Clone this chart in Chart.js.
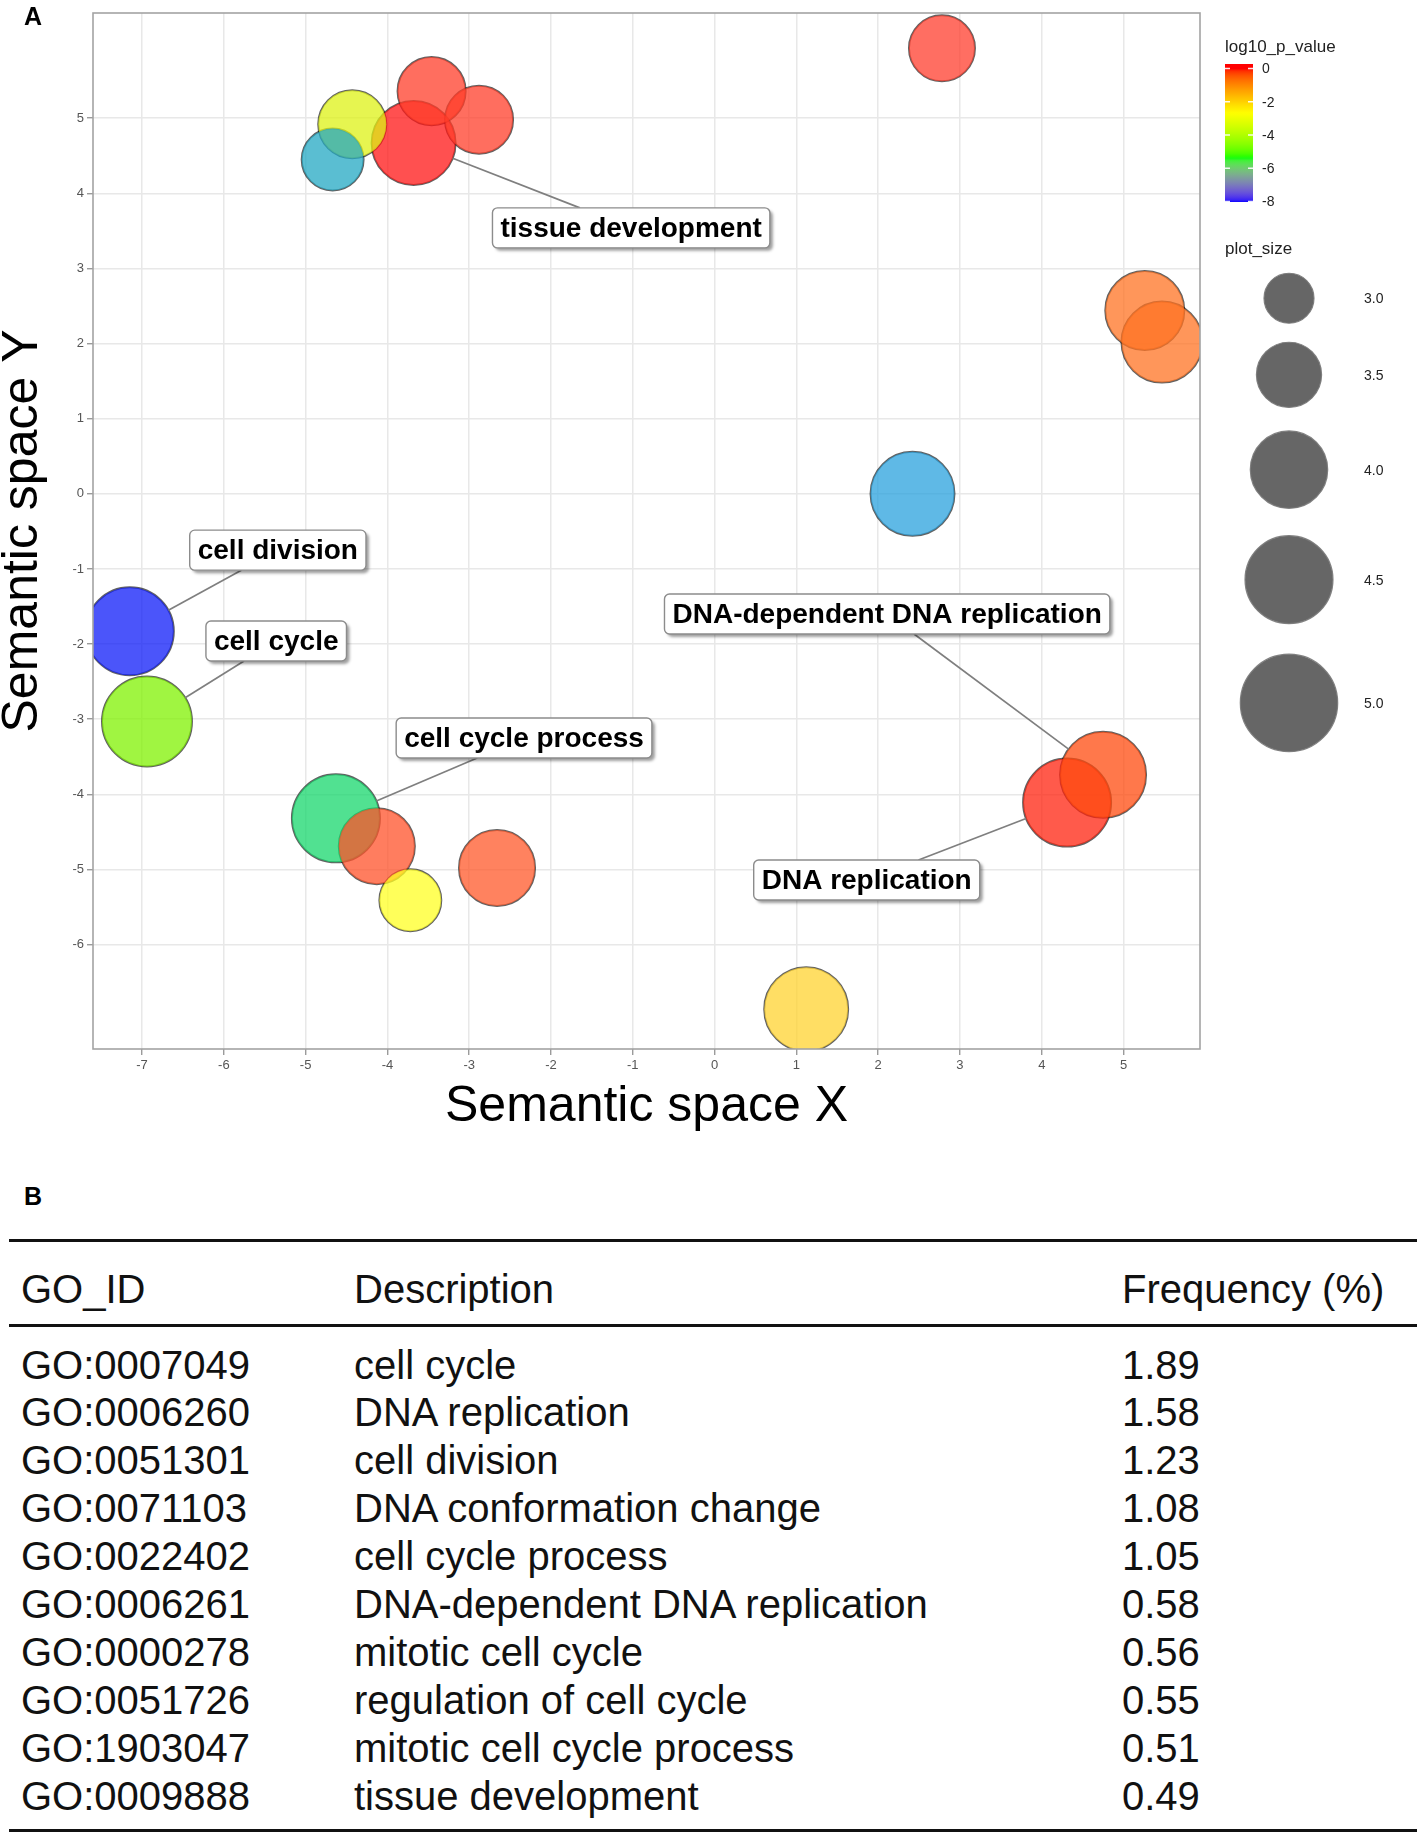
<!DOCTYPE html>
<html>
<head>
<meta charset="utf-8">
<script src="https://cdn.jsdelivr.net/npm/chart.js@4.4.1/dist/chart.umd.min.js"></script>
<style>
  body { margin: 0; background: #fff; font-family: "Liberation Sans", Arial, sans-serif; }
  #page { position: relative; width: 1417px; height: 1836px; overflow: hidden; }
  #chartBox { position: absolute; left: 0; top: 0; width: 1417px; height: 1160px; }
  .panel { position: absolute; font-weight: bold; font-size: 25px; line-height: 25px; color: #000; }
  .rule { position: absolute; left: 9px; width: 1408px; height: 3px; background: #111; }
  .cell { position: absolute; font-size: 40px; line-height: 40px; color: #111; white-space: nowrap; }
</style>
</head>
<body>
<div id="page">
  <div id="chartBox"><canvas id="semChart" width="1417" height="1160"></canvas></div>
  <div class="panel" style="left:24px; top:4px;">A</div>
  <div class="panel" style="left:24px; top:1184px;">B</div>
  <div id="table"></div>
</div>
<script>
// ---- panel A: REVIGO semantic space ----
const SEM_X = [2.78, -3.68, -3.46, -2.88, -4.43, -4.67, 5.26, 5.47, 2.42, -7.15, -6.94, -4.63, -4.13, -3.72, -2.66, 4.31, 4.75, 1.12];
const SEM_Y = [5.93, 4.67, 5.36, 4.98, 4.92, 4.45, 2.44, 2.02, 0.00, -1.83, -3.03, -4.32, -4.69, -5.41, -4.98, -4.11, -3.74, -6.86];
const PLOT_SIZE = [3.53, 4.30, 3.61, 3.61, 3.61, 3.38, 4.07, 4.16, 4.30, 4.50, 4.60, 4.50, 3.94, 3.38, 3.94, 4.50, 4.40, 4.30];

const X_TICKS = [-7, -6, -5, -4, -3, -2, -1, 0, 1, 2, 3, 4, 5];
const Y_TICKS = [-6, -5, -4, -3, -2, -1, 0, 1, 2, 3, 4, 5];
const X_MIN = -7.6, X_MAX = 5.935;
const Y_MIN = -7.39, Y_MAX = 6.40;

const LABEL_TEXT = ["tissue development", "cell division", "cell cycle", "cell cycle process", "DNA-dependent DNA replication", "DNA replication"];
const LABEL_TERM = [1, 9, 10, 11, 16, 15];
const LABEL_X = [-1.02, -5.34, -5.36, -2.33, 2.11, 1.86];
const LABEL_Y = [3.54, -0.75, -1.96, -3.25, -1.60, -5.14];

const LEGEND_P_TICKS = [0, -2, -4, -6, -8];
const SIZE_LEGEND = [3.0, 3.5, 4.0, 4.5, 5.0];

// ---- panel B: table ----
const GO_IDS = ["GO:0007049", "GO:0006260", "GO:0051301", "GO:0071103", "GO:0022402", "GO:0006261", "GO:0000278", "GO:0051726", "GO:1903047", "GO:0009888"];
const GO_DESCRIPTIONS = ["cell cycle", "DNA replication", "cell division", "DNA conformation change", "cell cycle process", "DNA-dependent DNA replication", "mitotic cell cycle", "regulation of cell cycle", "mitotic cell cycle process", "tissue development"];
const GO_FREQUENCY = [1.89, 1.58, 1.23, 1.08, 1.05, 0.58, 0.56, 0.55, 0.51, 0.49];

// colour each term was drawn in (fill is laid on at FILL_ALPHA)
const TERM_COLOURS = ["#ff3e2d", "#ff1616", "#ff3e2a", "#ff3e2a", "#def216", "#23a8c3", "#ff7323", "#ff7323", "#2aa2de",
  "#0f1cf8", "#80f202", "#17d76c", "#ff522a", "#ffff23", "#ff582a", "#ff230f", "#ff4b0f", "#ffd330"];
const FILL_ALPHA = 0.75;
const FONT = '"Liberation Sans", Arial, sans-serif';

// colour bar: blue -> green -> yellow -> red, interpolated in Lab like ggplot
const BAR_STOPS = [[-8.05, [0, 0, 255]], [-5.37, [0, 255, 0]], [-2.68, [255, 255, 0]], [0, [255, 0, 0]]];

function hexToRgba(hex, a) {
  const n = parseInt(hex.slice(1), 16);
  return `rgba(${(n >> 16) & 255}, ${(n >> 8) & 255}, ${n & 255}, ${a})`;
}

function sizeToRadius(v) {
  // area scale fitted to the plot_size legend (3.0 -> 25px, 5.0 -> 48.7px)
  const r3 = 25, r5 = 48.7;
  return Math.sqrt(r3 * r3 + (r5 * r5 - r3 * r3) * (v - 3) / 2);
}

function toLinear(c) { c /= 255; return c <= 0.04045 ? c / 12.92 : Math.pow((c + 0.055) / 1.055, 2.4); }
function fromLinear(c) {
  const v = c <= 0.0031308 ? 12.92 * c : 1.055 * Math.pow(c, 1 / 2.4) - 0.055;
  return Math.round(Math.min(1, Math.max(0, v)) * 255);
}
function rgbToLab(rgb) {
  const [r, g, b] = rgb.map(toLinear);
  const X = (0.4124 * r + 0.3576 * g + 0.1805 * b) / 0.95047;
  const Y = 0.2126 * r + 0.7152 * g + 0.0722 * b;
  const Z = (0.0193 * r + 0.1192 * g + 0.9505 * b) / 1.08883;
  const f = (t) => (t > 0.008856 ? Math.cbrt(t) : 7.787 * t + 16 / 116);
  return [116 * f(Y) - 16, 500 * (f(X) - f(Y)), 200 * (f(Y) - f(Z))];
}
function labToRgb(lab) {
  const fy = (lab[0] + 16) / 116, fx = fy + lab[1] / 500, fz = fy - lab[2] / 200;
  const inv = (t) => (t * t * t > 0.008856 ? t * t * t : (t - 16 / 116) / 7.787);
  const X = inv(fx) * 0.95047, Y = inv(fy), Z = inv(fz) * 1.08883;
  return [
    fromLinear(3.2406 * X - 1.5372 * Y - 0.4986 * Z),
    fromLinear(-0.9689 * X + 1.8758 * Y + 0.0415 * Z),
    fromLinear(0.0557 * X - 0.2040 * Y + 1.0570 * Z)
  ];
}
function pValueColour(v) {
  const s = BAR_STOPS;
  if (v <= s[0][0]) return `rgb(${s[0][1].join(",")})`;
  if (v >= s[s.length - 1][0]) return `rgb(${s[s.length - 1][1].join(",")})`;
  for (let i = 0; i < s.length - 1; i++) {
    if (v <= s[i + 1][0]) {
      const t = (v - s[i][0]) / (s[i + 1][0] - s[i][0]);
      const a = rgbToLab(s[i][1]), b = rgbToLab(s[i + 1][1]);
      return `rgb(${labToRgb(a.map((c, k) => c + (b[k] - c) * t)).join(",")})`;
    }
  }
}

function roundRect(ctx, l, t, w, h, r) {
  ctx.beginPath();
  ctx.moveTo(l + r, t);
  ctx.arcTo(l + w, t, l + w, t + h, r);
  ctx.arcTo(l + w, t + h, l, t + h, r);
  ctx.arcTo(l, t + h, l, t, r);
  ctx.arcTo(l, t, l + w, t, r);
  ctx.closePath();
}

function drawTermLabels(chart) {
  const { ctx, scales: { x, y } } = chart;
  ctx.save();
  ctx.font = `bold 28px ${FONT}`;
  const boxes = LABEL_TEXT.map((text, i) => {
    const cx = x.getPixelForValue(LABEL_X[i]);
    const cy = y.getPixelForValue(LABEL_Y[i]);
    const w = ctx.measureText(text).width + 16;
    return { text, cx, cy, w, h: 40, term: LABEL_TERM[i] };
  });

  // repel-style segments: from bubble edge towards label centre, stopping at the box
  ctx.strokeStyle = "#7f7f7f";
  ctx.lineWidth = 1.7;
  boxes.forEach((b) => {
    const px = x.getPixelForValue(SEM_X[b.term]);
    const py = y.getPixelForValue(SEM_Y[b.term]);
    const rad = sizeToRadius(PLOT_SIZE[b.term]);
    const dx = b.cx - px, dy = b.cy - py;
    const len = Math.hypot(dx, dy);
    const tBox = Math.min((b.w / 2) / Math.abs(dx || 1e-6), (b.h / 2) / Math.abs(dy || 1e-6));
    ctx.beginPath();
    ctx.moveTo(px + (dx / len) * rad, py + (dy / len) * rad);
    ctx.lineTo(b.cx - dx * tBox, b.cy - dy * tBox);
    ctx.stroke();
  });

  boxes.forEach((b) => {
    const l = b.cx - b.w / 2, t = b.cy - b.h / 2;
    ctx.save();
    ctx.shadowColor = "rgba(0, 0, 0, 0.38)";
    ctx.shadowOffsetX = 3;
    ctx.shadowOffsetY = 3;
    ctx.shadowBlur = 3;
    roundRect(ctx, l, t, b.w, b.h, 5);
    ctx.fillStyle = "#ffffff";
    ctx.fill();
    ctx.restore();
    roundRect(ctx, l, t, b.w, b.h, 5);
    ctx.strokeStyle = "#8c8c8c";
    ctx.lineWidth = 1.4;
    ctx.stroke();
    ctx.fillStyle = "#000";
    ctx.textAlign = "center";
    ctx.textBaseline = "middle";
    ctx.fillText(b.text, b.cx, b.cy + 1);
  });
  ctx.restore();
}

function drawLegends(chart) {
  const ctx = chart.ctx;
  ctx.save();
  ctx.fillStyle = "#222";
  ctx.textAlign = "left";
  ctx.textBaseline = "middle";
  ctx.font = `17px ${FONT}`;
  ctx.fillText("log10_p_value", 1225, 47);

  // colour bar
  const barTop = 64, barBottom = 202, barLeft = 1225, barW = 28;
  const barY = (v) => 68.6 - v * 16.6;
  const vTop = (68.6 - barTop) / 16.6, vBottom = (68.6 - barBottom) / 16.6;
  const grad = ctx.createLinearGradient(0, barTop, 0, barBottom);
  for (let i = 0; i <= 60; i++) {
    const t = i / 60;
    grad.addColorStop(t, pValueColour(vTop + (vBottom - vTop) * t));
  }
  ctx.fillStyle = grad;
  ctx.fillRect(barLeft, barTop, barW, barBottom - barTop);
  ctx.strokeStyle = "rgba(255,255,255,0.9)";
  ctx.lineWidth = 1.5;
  ctx.font = `14px ${FONT}`;
  ctx.fillStyle = "#222";
  LEGEND_P_TICKS.forEach((v) => {
    const yy = barY(v);
    ctx.beginPath();
    ctx.moveTo(barLeft, yy); ctx.lineTo(barLeft + 5, yy);
    ctx.moveTo(barLeft + barW - 5, yy); ctx.lineTo(barLeft + barW, yy);
    ctx.stroke();
    ctx.fillText(String(v), 1262, yy + 1);
  });

  // size legend
  ctx.font = `17px ${FONT}`;
  ctx.fillText("plot_size", 1225, 249);
  ctx.font = `14px ${FONT}`;
  let top = 265;
  SIZE_LEGEND.forEach((v) => {
    const r = sizeToRadius(v);
    const keyH = 1.33 * 2 * r;
    const cy = top + keyH / 2;
    ctx.beginPath();
    ctx.arc(1289, cy, r, 0, Math.PI * 2);
    ctx.fillStyle = "rgba(0,0,0,0.6)";
    ctx.fill();
    ctx.strokeStyle = "rgba(120,120,120,0.9)";
    ctx.lineWidth = 1.2;
    ctx.stroke();
    ctx.fillStyle = "#222";
    ctx.fillText(v.toFixed(1), 1364, cy + 1);
    top += keyH;
  });
  ctx.restore();
}

const semanticOverlay = {
  id: "semanticOverlay",
  afterDatasetsDraw(chart) {
    const { ctx, chartArea: a } = chart;
    ctx.save();
    ctx.strokeStyle = "#a3a3a3";
    ctx.lineWidth = 1.6;
    ctx.strokeRect(a.left, a.top, a.right - a.left, a.bottom - a.top);
    ctx.restore();
    drawTermLabels(chart);
  },
  afterDraw(chart) {
    drawLegends(chart);
  }
};

const points = SEM_X.map((xv, i) => ({ x: xv, y: SEM_Y[i], r: sizeToRadius(PLOT_SIZE[i]) }));

const tickFont = { family: FONT, size: 13 };
const titleFont = { family: FONT, size: 50, lineHeight: 1 };

new Chart(document.getElementById("semChart").getContext("2d"), {
  type: "bubble",
  data: {
    datasets: [
      {
        label: "terms",
        data: points,
        backgroundColor: TERM_COLOURS.map((c) => hexToRgba(c, FILL_ALPHA)),
        borderWidth: 0,
        clip: 0
      },
      {
        label: "outline",
        data: points,
        backgroundColor: "rgba(0,0,0,0)",
        borderColor: "rgba(0,0,0,0.62)",
        borderWidth: 2,
        clip: 0
      }
    ]
  },
  options: {
    responsive: false,
    devicePixelRatio: 1,
    animation: false,
    events: [],
    layout: { autoPadding: false, padding: { top: 13, right: 217, bottom: 0, left: 0 } },
    scales: {
      x: {
        type: "linear",
        min: X_MIN,
        max: X_MAX,
        afterBuildTicks: (s) => { s.ticks = X_TICKS.map((v) => ({ value: v })); },
        afterFit: (s) => { s.height = 111; },
        grid: { color: "#e8e8e8", lineWidth: 1.5, tickLength: 6, tickColor: "#8a8a8a", tickWidth: 1.2 },
        border: { display: false },
        ticks: { color: "#555", font: tickFont, padding: 3, maxRotation: 0, autoSkip: false, callback: (v) => String(v) },
        title: { display: true, text: "Semantic space X", color: "#000", font: titleFont, padding: { top: 0, bottom: 28 } }
      },
      y: {
        type: "linear",
        min: Y_MIN,
        max: Y_MAX,
        afterBuildTicks: (s) => { s.ticks = Y_TICKS.map((v) => ({ value: v })); },
        afterFit: (s) => { s.width = 93; },
        grid: { color: "#e8e8e8", lineWidth: 1.5, tickLength: 6, tickColor: "#8a8a8a", tickWidth: 1.2 },
        border: { display: false },
        ticks: { color: "#555", font: tickFont, padding: 3, autoSkip: false, callback: (v) => String(v) },
        title: { display: true, text: "Semantic space Y", color: "#000", font: titleFont, padding: { top: -2, bottom: 0 } }
      }
    },
    plugins: {
      legend: { display: false },
      tooltip: { enabled: false }
    }
  },
  plugins: [semanticOverlay]
});

// ---- table ----
function buildTable() {
  const host = document.getElementById("table");
  const cols = [21, 354, 1122];
  const addCell = (text, left, centreY) => {
    const d = document.createElement("div");
    d.className = "cell";
    d.style.left = left + "px";
    d.style.top = (centreY - 19.5) + "px";
    d.textContent = text;
    host.appendChild(d);
  };
  [1238.5, 1323.5, 1828.5].forEach((t) => {
    const r = document.createElement("div");
    r.className = "rule";
    r.style.top = t + "px";
    host.appendChild(r);
  });
  ["GO_ID", "Description", "Frequency (%)"].forEach((h, i) => addCell(h, cols[i], 1288));
  GO_IDS.forEach((id, i) => {
    const cy = 1364 + i * 47.9;
    addCell(id, cols[0], cy);
    addCell(GO_DESCRIPTIONS[i], cols[1], cy);
    addCell(GO_FREQUENCY[i].toFixed(2), cols[2], cy);
  });
}
buildTable();
</script>
</body>
</html>
